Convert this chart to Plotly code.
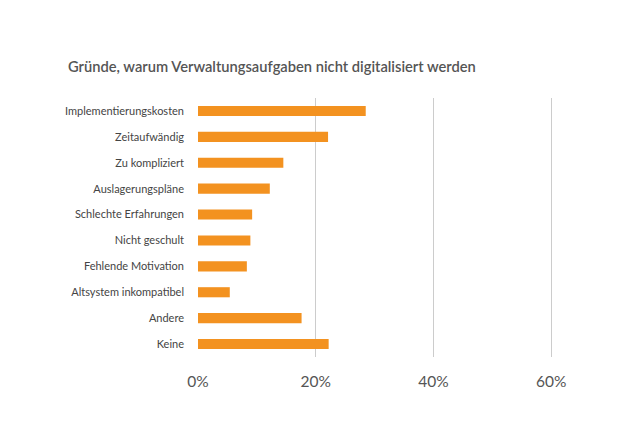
import plotly.graph_objects as go

categories = ["Implementierungskosten", "Zeitaufwändig", "Zu kompliziert", "Auslagerungspläne",
              "Schlechte Erfahrungen", "Nicht geschult", "Fehlende Motivation",
              "Altsystem inkompatibel", "Andere", "Keine"]
values = [28.5, 22.1, 14.5, 12.2, 9.2, 8.9, 8.3, 5.4, 17.6, 22.2]
tick_vals = [0, 20, 40, 60]
tick_text = ["0%", "20%", "40%", "60%"]
title = "Gründe, warum Verwaltungsaufgaben nicht digitalisiert werden"

fig = go.Figure(go.Bar(
    x=values, y=categories, orientation="h",
    marker=dict(color="#F39220", line=dict(width=0)),
    hoverinfo="skip",
))

fig.update_layout(
    width=620, height=430,
    margin=dict(l=190, r=71, t=90, b=81),
    paper_bgcolor="white", plot_bgcolor="white",
    bargap=0.61,
    showlegend=False,
    font=dict(family="Lato", color="#555555"),
    title=dict(text=title, x=60/620, xanchor="left", y=1-59/430, yanchor="middle",
               font=dict(family="Lato", size=14.7, color="#555555", weight=600)),
)
fig.update_xaxes(
    range=[0, 61], tickvals=tick_vals, ticktext=tick_text,
    showgrid=True, gridcolor="#cccccc", gridwidth=1,
    zeroline=False, showline=False,
    tickfont=dict(size=15.5, color="#555555"),
    ticks="", ticklabelstandoff=13,
)
fig.update_yaxes(
    categoryorder="array", categoryarray=categories, autorange="reversed",
    showgrid=False, zeroline=False, showline=False,
    tickfont=dict(size=11, color="#444444"),
    ticks="", ticklabelstandoff=13,
)

fig.write_html("out.html")
